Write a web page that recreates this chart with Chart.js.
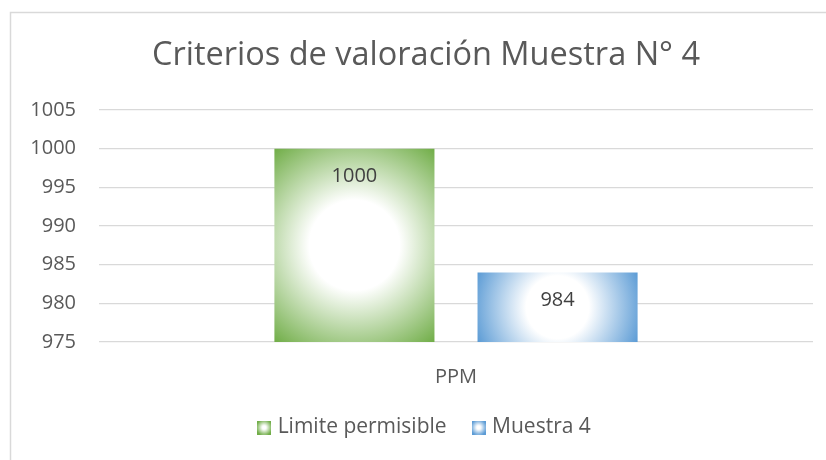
<!DOCTYPE html>
<html>
<head>
<meta charset="utf-8">
<script src="https://cdn.jsdelivr.net/npm/chart.js@4/dist/chart.umd.min.js"></script>
<style>
  html, body { margin: 0; padding: 0; background: #fff; }
  #wrap { width: 826px; height: 460px; }
</style>
</head>
<body>
<div id="wrap"><canvas id="myChart" width="826" height="460"></canvas></div>
<script>
// chart data
const titleText = "Criterios de valoración Muestra N° 4";
const categories = ["PPM"];
const seriesNames = ["Limite permisible", "Muestra 4"];
const limiteValues = [1000];
const muestraValues = [984];
const yMin = 975;
const yMax = 1005;
const yStep = 5;

const colors = ["#70ad47", "#5b9bd5"];
const textColor = "#595959";
const font = "'Open Sans', 'Noto Sans', sans-serif";

// radial white-centered fill for every bar
function barFill(c) {
  const chart = c.chart;
  const area = chart.chartArea;
  const col = colors[c.datasetIndex];
  if (!area || c.type !== "data") return col;
  const el = chart.getDatasetMeta(c.datasetIndex).data[c.dataIndex];
  if (!el || el.x == null || isNaN(el.x) || !el.width) return col;
  const top = el.y;
  const bottom = Math.min(el.base, area.bottom);
  const cx = el.x;
  const cy = (top + bottom) / 2;
  const r = Math.sqrt(Math.pow(el.width / 2, 2) + Math.pow((bottom - top) / 2, 2));
  const g = chart.ctx.createRadialGradient(cx, cy, 0, cx, cy, r);
  g.addColorStop(0, "#ffffff");
  g.addColorStop(0.36, "#ffffff");
  g.addColorStop(1, col);
  return g;
}

// little gradient squares for the legend
function legendSwatch(col) {
  const cv = document.createElement("canvas");
  cv.width = 14;
  cv.height = 14;
  const x = cv.getContext("2d");
  const g = x.createRadialGradient(7, 7, 0, 7, 7, 8);
  g.addColorStop(0, "#ffffff");
  g.addColorStop(0.25, "#ffffff");
  g.addColorStop(1, col);
  x.fillStyle = g;
  x.fillRect(0, 0, 14, 14);
  return cv;
}
const swatches = colors.map(legendSwatch);

// outer frame of the chart
const framePlugin = {
  id: "frame",
  beforeDraw(chart) {
    const c = chart.ctx;
    c.save();
    c.fillStyle = "#ffffff";
    c.fillRect(0, 0, chart.width, chart.height);
    c.strokeStyle = "#d9d9d9";
    c.lineWidth = 1.5;
    c.strokeRect(10.5, 12.5, chart.width + 20, chart.height + 20);
    c.restore();
  }
};

// value labels inside the top of each bar
const valueLabels = {
  id: "valueLabels",
  afterDatasetsDraw(chart) {
    const c = chart.ctx;
    c.save();
    c.font = "20px " + font;
    c.fillStyle = "#404040";
    c.textAlign = "center";
    c.textBaseline = "middle";
    chart.data.datasets.forEach((ds, i) => {
      chart.getDatasetMeta(i).data.forEach((bar, j) => {
        c.fillText(String(ds.data[j]), bar.x, bar.y + 28);
      });
    });
    c.restore();
  }
};

let ctx = document.getElementById("myChart");
let myChart = new Chart(ctx, {
  type: "bar",
  data: {
    labels: categories,
    datasets: [
      { label: seriesNames[0], data: limiteValues, backgroundColor: barFill, pointStyle: swatches[0] },
      { label: seriesNames[1], data: muestraValues, backgroundColor: barFill, pointStyle: swatches[1] }
    ]
  },
  options: {
    responsive: false,
    animation: false,
    events: [],
    categoryPercentage: 0.569,
    barPercentage: 0.788,
    layout: { padding: { left: 26, right: 0, top: 0, bottom: 12 } },
    plugins: {
      tooltip: { enabled: false },
      title: {
        display: true,
        text: titleText,
        color: textColor,
        font: { family: font, size: 32.5, weight: "normal" },
        padding: { top: 36, bottom: 35 }
      },
      legend: {
        position: "bottom",
        labels: {
          usePointStyle: true,
          pointStyleWidth: 6,
          color: textColor,
          font: { family: font, size: 21 },
          padding: 29
        }
      }
    },
    scales: {
      x: {
        grid: { display: false },
        border: { display: false },
        ticks: { color: textColor, font: { family: font, size: 20 }, padding: 15 },
        afterFit(scale) { scale.height = 46; }
      },
      y: {
        min: yMin,
        max: yMax,
        grid: { color: "#d9d9d9", lineWidth: 1.3, drawTicks: false },
        border: { display: false },
        ticks: {
          stepSize: yStep,
          color: textColor,
          font: { family: font, size: 20 },
          padding: 23,
          callback: v => String(v)
        },
        afterFit(scale) { scale.width = 73; }
      },
      // empty right margin axis, keeps the plot edge where the reference has it
      y2: {
        type: "linear",
        position: "right",
        grid: { display: false },
        border: { display: false },
        ticks: { display: false },
        afterFit(scale) { scale.width = 13; }
      }
    }
  },
  plugins: [framePlugin, valueLabels]
});
// second pass so the gradients know where the bars are
myChart.update();
</script>
</body>
</html>
